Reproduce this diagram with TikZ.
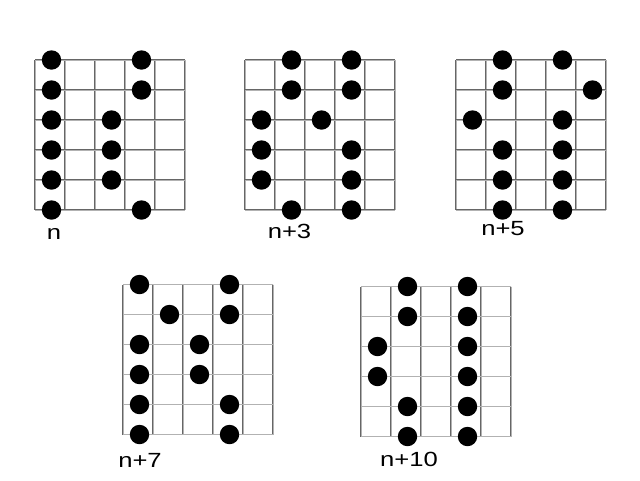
\documentclass[tikz,border=0pt]{standalone}
\usepackage{fontspec}
\setmainfont{Liberation Sans}
\begin{document}
\begin{tikzpicture}[x=1pt,y=-1pt,
  gridline/.style={draw=black!60, line width=0.6pt, double=black!30, double distance=0.5pt},
  fingerdot/.style={circle, fill=black, inner sep=0pt, minimum size=19.4pt},
  lbl/.style={anchor=base, font=\fontsize{20.5}{24}\selectfont}]
\useasboundingbox (0,0) rectangle (640,480);
% grid drawer: #1 left, #2 top
\newcommand{\fretgrid}[2]{%
  \foreach \i in {0,...,5}{\draw[gridline] (#1+30*\i,#2) -- (#1+30*\i,#2+150);}
  \foreach \j in {0,...,5}{\draw[gridline] (#1,#2+30*\j) -- (#1+150,#2+30*\j);}
}
\newcommand{\fdots}[3]{% left top list of row/col
  \foreach \r/\c in {#3}{\node[fingerdot] at (#1+16.5+30*\c,#2+30*\r) {};}
}
\newcommand{\wtxt}[1]{\scalebox{1.25}[1]{#1}}
% diagram n
\fretgrid{35}{60}
\fdots{35}{60}{0/0,0/3,1/0,1/3,2/0,2/2,3/0,3/2,4/0,4/2,5/0,5/3}
\node[lbl] (l1) at (54,239.5) {\wtxt{n}};
% diagram n+3
\fretgrid{245}{60}
\fdots{245}{60}{0/1,0/3,1/1,1/3,2/0,2/2,3/0,3/3,4/0,4/3,5/1,5/3}
\node[lbl] (l2) at (289.5,238) {\wtxt{n+3}};
% diagram n+5
\fretgrid{456}{60}
\fdots{456}{60}{0/1,0/3,1/1,1/4,2/0,2/3,3/1,3/3,4/1,4/3,5/1,5/3}
\node[lbl] (l3) at (503,235.5) {\wtxt{n+5}};
% diagram n+7
\fretgrid{123}{284.5}
\fdots{123}{284.5}{0/0,0/3,1/1,1/3,2/0,2/2,3/0,3/2,4/0,4/3,5/0,5/3}
\node[lbl] (l4) at (140,467) {\wtxt{n+7}};
% diagram n+10
\fretgrid{361}{286.5}
\fdots{361}{286.5}{0/1,0/3,1/1,1/3,2/0,2/3,3/0,3/3,4/1,4/3,5/1,5/3}
\node[lbl] (l5) at (409,466.5) {\wtxt{n+10}};
\end{tikzpicture}
\end{document}
